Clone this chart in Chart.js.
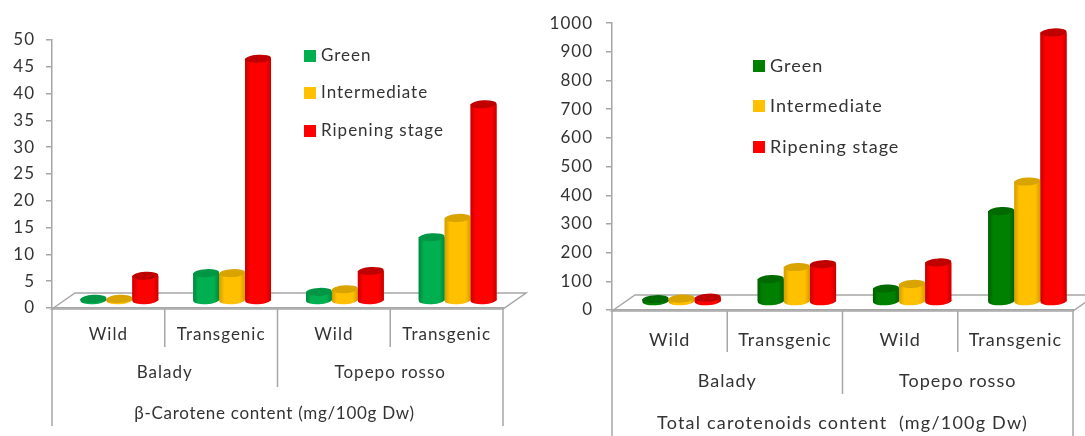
<!DOCTYPE html>
<html>
<head>
<meta charset="utf-8">
<script src="https://cdn.jsdelivr.net/npm/chart.js@4"></script>
<style>
  html, body { margin: 0; padding: 0; background: #fff; }
  #wrap { position: relative; width: 1085px; height: 436px; overflow: hidden; }
  canvas { position: absolute; top: 0; }
</style>
</head>
<body>
<div id="wrap">
  <canvas id="betaChart" style="left:0" width="540" height="436"></canvas>
  <canvas id="totalChart" style="left:540px" width="545" height="436"></canvas>
</div>
<script>
// --- data ---
const categories = ['Wild', 'Transgenic', 'Wild', 'Transgenic'];
const groups = ['Balady', 'Topepo rosso'];
const seriesNames = ['Green', 'Intermediate', 'Ripening stage'];

const betaGreen = [0.4, 5.2, 1.7, 11.9];
const betaIntermediate = [0.4, 5.2, 2.2, 15.5];
const betaRipening = [4.7, 45.2, 5.6, 36.7];

const totalGreen = [10, 80, 47, 317];
const totalIntermediate = [12, 122, 63, 420];
const totalRipening = [15, 132, 138, 940];

const betaTitle = 'β-Carotene content (mg/100g Dw)';
const totalTitle = 'Total carotenoids content  (mg/100g Dw)';

const GREY = '#a6a6a6';
const TEXT = '#333333';
const FONT = 'Lato, "Noto Sans", sans-serif';

function cylinder(ctx, x, top, base, w, c) {
    const rx = w / 2, ry = 4, tilt = -0.06;
    const g = ctx.createLinearGradient(x - rx, 0, x + rx, 0);
    g.addColorStop(0, c.dark);
    g.addColorStop(0.2, c.main);
    g.addColorStop(0.8, c.main);
    g.addColorStop(1, c.dark);
    ctx.fillStyle = g;
    ctx.beginPath();
    ctx.ellipse(x, base, rx, ry, tilt, 0, Math.PI * 2);
    ctx.fill();
    ctx.fillRect(x - rx, top, w, base - top);
    ctx.fillStyle = c.cap;
    ctx.beginPath();
    ctx.ellipse(x, top, rx, ry, tilt, 0, Math.PI * 2);
    ctx.fill();
}

// the 3D look: floor, cylinders, category rows and the legend
const look = {
    id: 'look',
    beforeDraw(chart, args, o) {
        // letter spacing has to be set here, a canvas resize clears it
        chart.ctx.letterSpacing = o.spacing + 'px';
    },
    beforeDatasetsDraw(chart, args, o) {
        const { ctx, chartArea: a } = chart;
        const y0 = chart.scales.y.getPixelForValue(0);
        ctx.save();
        ctx.strokeStyle = GREY;
        ctx.lineWidth = 1.5;
        ctx.beginPath();
        ctx.moveTo(a.left, y0 + 1);
        ctx.lineTo(a.left + o.depthX, y0 - o.depthY);
        ctx.lineTo(a.right + o.depthX, y0 - o.depthY);
        ctx.lineTo(a.right, y0 + 1);
        ctx.closePath();
        ctx.stroke();
        ctx.restore();
        ctx.save();
        ctx.translate(o.shiftX, -o.shiftY);
    },
    afterDatasetsDraw(chart, args, o) {
        const { ctx } = chart;
        categories.forEach((c, i) => {
            chart.data.datasets.forEach((ds, d) => {
                const bar = chart.getDatasetMeta(d).data[i];
                cylinder(ctx, bar.x, bar.y, bar.base, bar.width, o.colors[d]);
            });
        });
        ctx.restore();
    },
    afterDraw(chart, args, o) {
        const { ctx, chartArea: a } = chart;
        const y0 = chart.scales.y.getPixelForValue(0);
        const step = (a.right - a.left) / categories.length;
        ctx.save();
        ctx.strokeStyle = GREY;
        ctx.lineWidth = 1.5;
        const sep = (px, end) => {
            ctx.beginPath();
            ctx.moveTo(px, y0 + 1);
            ctx.lineTo(px, end);
            ctx.stroke();
        };
        sep(a.left, o.outerEnd);
        sep(a.right, o.outerEnd);
        sep(a.left + step * 2, o.midEnd);
        sep(a.left + step, o.innerEnd);
        sep(a.left + step * 3, o.innerEnd);

        ctx.fillStyle = TEXT;
        ctx.font = o.fontSize + 'px ' + FONT;
        ctx.textAlign = 'center';
        ctx.textBaseline = 'middle';
        groups.forEach((g, i) => {
            ctx.fillText(g, a.left + step * (i * 2 + 1), o.groupY);
        });
        ctx.letterSpacing = o.titleSpacing + 'px';
        ctx.fillText(o.title, (a.left + a.right) / 2 + o.titleDx, o.titleY);
        ctx.letterSpacing = o.spacing + 'px';

        ctx.textAlign = 'left';
        seriesNames.forEach((n, i) => {
            ctx.fillStyle = o.colors[i].main;
            ctx.fillRect(o.legendX, o.legendY[i] - 6, 12, 12);
            ctx.fillStyle = TEXT;
            ctx.fillText(n, o.legendX + 17, o.legendY[i]);
        });
        ctx.restore();
    }
};

function makeChart(id, values, box, yMax, yStep, lookOpts) {
    const canvas = document.getElementById(id);
    return new Chart(canvas, {
        type: 'bar',
        plugins: [look],
        data: {
            labels: categories,
            datasets: seriesNames.map((n, i) => ({
                label: n,
                data: values[i],
                backgroundColor: lookOpts.colors[i].main,
                categoryPercentage: box.catPct,
                barPercentage: 1
            }))
        },
        options: {
            responsive: false,
            animation: false,
            layout: { padding: { left: 0, top: box.top, right: canvas.width - box.right, bottom: 0 } },
            plugins: {
                legend: { display: false },
                tooltip: { enabled: false },
                look: lookOpts
            },
            scales: {
                x: {
                    afterFit: s => { s.height = canvas.height - box.zero; },
                    grid: { display: false },
                    border: { color: GREY, width: 1.5 },
                    ticks: { color: TEXT, font: { family: FONT, size: lookOpts.fontSize }, padding: box.tickPad, maxRotation: 0, autoSkip: false }
                },
                y: {
                    min: 0,
                    max: yMax,
                    afterFit: s => { s.width = box.left; },
                    grid: { drawOnChartArea: false, color: GREY, tickLength: 6, lineWidth: 1.5 },
                    border: { color: GREY, width: 1.5 },
                    ticks: { stepSize: yStep, color: TEXT, font: { family: FONT, size: lookOpts.tickSize }, padding: box.yPad, callback: v => String(v) }
                }
            }
        }
    });
}

makeChart('betaChart', [betaGreen, betaIntermediate, betaRipening],
    { left: 52, right: 503, top: 40, zero: 308, catPct: 0.69, tickPad: 8, yPad: 11 }, 50, 5, {
        depthX: 23, depthY: 15, shiftX: 11, shiftY: 7,
        colors: [
            { main: '#00b050', dark: '#00863c', cap: '#009644' },
            { main: '#ffc000', dark: '#d29e00', cap: '#d9a300' },
            { main: '#ff0000', dark: '#c80000', cap: '#c00000' }
        ],
        title: betaTitle, titleDx: -3, fontSize: 17, tickSize: 17, spacing: 1, titleSpacing: 0.7,
        groupY: 373, titleY: 414, outerEnd: 426, midEnd: 387, innerEnd: 347,
        legendX: 304, legendY: [56, 93, 131]
    });

makeChart('totalChart', [totalGreen, totalIntermediate, totalRipening],
    { left: 72, right: 533, top: 23, zero: 310, catPct: 0.68, tickPad: 11, yPad: 13 }, 1000, 100, {
        depthX: 23, depthY: 15, shiftX: 12, shiftY: 8,
        colors: [
            { main: '#008000', dark: '#005f00', cap: '#006a00' },
            { main: '#ffc000', dark: '#d29e00', cap: '#d9a300' },
            { main: '#ff0000', dark: '#c80000', cap: '#c00000' }
        ],
        title: totalTitle, titleDx: 0, fontSize: 18, tickSize: 17, spacing: 1, titleSpacing: 1.2,
        groupY: 381, titleY: 423, outerEnd: 436, midEnd: 394, innerEnd: 352,
        legendX: 213, legendY: [66, 106, 147]
    });
</script>
</body>
</html>
